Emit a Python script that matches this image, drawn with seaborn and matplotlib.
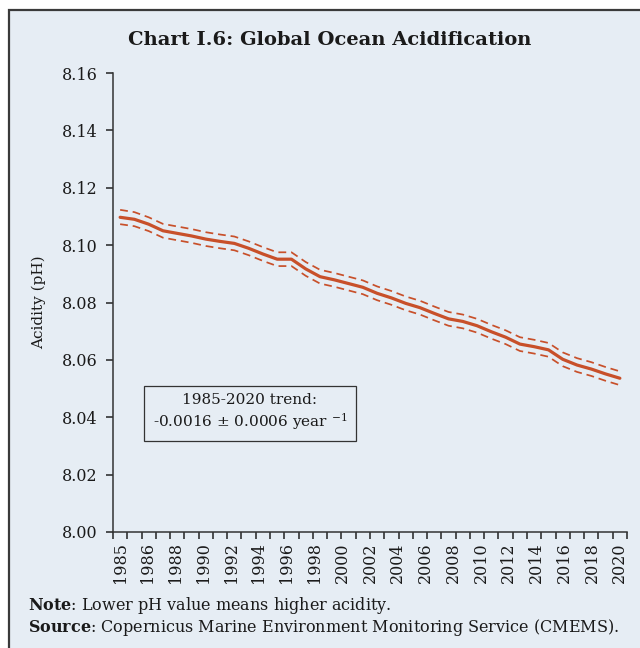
import numpy as np
import pandas as pd
import matplotlib
matplotlib.use("Agg")
import matplotlib.pyplot as plt
import matplotlib.transforms as mtransforms
from matplotlib.patches import Rectangle
import seaborn as sns

# Global ocean pH, yearly means with uncertainty band
years = list(range(1985, 2021))
ph_mean = [8.1097, 8.1090, 8.1073, 8.1050, 8.1041, 8.1032, 8.1021, 8.1013, 8.1006, 8.0989,
           8.0969, 8.0951, 8.0951, 8.0917, 8.0890, 8.0879, 8.0866, 8.0853, 8.0832, 8.0816,
           8.0797, 8.0782, 8.0762, 8.0743, 8.0734, 8.0719, 8.0698, 8.0679, 8.0655, 8.0646,
           8.0635, 8.0602, 8.0582, 8.0568, 8.0551, 8.0536]
ph_upper = [8.1123, 8.1115, 8.1097, 8.1074, 8.1065, 8.1056, 8.1045, 8.1037, 8.1030, 8.1013,
            8.0993, 8.0975, 8.0975, 8.0941, 8.0914, 8.0903, 8.0890, 8.0877, 8.0856, 8.0840,
            8.0821, 8.0806, 8.0786, 8.0767, 8.0758, 8.0743, 8.0722, 8.0703, 8.0679, 8.0670,
            8.0659, 8.0626, 8.0606, 8.0592, 8.0575, 8.0560]
ph_lower = [8.1073, 8.1066, 8.1049, 8.1026, 8.1017, 8.1008, 8.0997, 8.0989, 8.0982, 8.0965,
            8.0945, 8.0927, 8.0927, 8.0893, 8.0866, 8.0855, 8.0842, 8.0829, 8.0808, 8.0792,
            8.0773, 8.0758, 8.0738, 8.0719, 8.0710, 8.0695, 8.0674, 8.0655, 8.0631, 8.0622,
            8.0611, 8.0578, 8.0558, 8.0544, 8.0527, 8.0512]
tick_labels = ["1985", "1986", "1988", "1990", "1992", "1994", "1996", "1998", "2000", "2002",
               "2004", "2006", "2008", "2010", "2012", "2014", "2016", "2018", "2020"]

df = pd.DataFrame({"Year": years, "Mean": ph_mean, "Upper": ph_upper, "Lower": ph_lower})

bg = "#E6EDF4"
red = "#C8502A"
ink = "#1a1a1a"

sns.set_style("ticks")
plt.rcParams["font.family"] = ["DejaVu Serif"]
plt.rcParams["mathtext.fontset"] = "dejavuserif"
plt.rcParams["text.color"] = ink
plt.rcParams["xtick.color"] = ink
plt.rcParams["ytick.color"] = ink
plt.rcParams["axes.labelcolor"] = ink

fig = plt.figure(figsize=(6.4, 6.48), dpi=100, facecolor="white")
# panel background with dark frame
frame = Rectangle((9 / 640, -0.01), 1.0, 1 - 10 / 648 + 0.01, transform=fig.transFigure,
                  facecolor=bg, edgecolor="#3a3a3a", linewidth=1.6, zorder=-5)
fig.patches.append(frame)

ax = fig.add_axes([113 / 640, 1 - 532 / 648, (627 - 113) / 640, (532 - 73) / 648])
ax.set_facecolor(bg)

sns.lineplot(data=df, x="Year", y="Mean", ax=ax, color=red, linewidth=2.3)
sns.lineplot(data=df, x="Year", y="Upper", ax=ax, color=red, linewidth=1.25)
sns.lineplot(data=df, x="Year", y="Lower", ax=ax, color=red, linewidth=1.25)
for ln in ax.lines[1:]:
    ln.set_dashes((4.5, 2.8))

ax.set_ylim(8.00, 8.16)
yt = np.arange(8.00, 8.161, 0.02)
ax.set_yticks(yt)
ax.set_yticklabels([f"{v:.2f}" for v in yt], fontsize=11.5)

# category ticks sit between years; year labels are spread evenly underneath
ax.set_xlim(1984.5, 2020.5)
ax.set_xticks(np.arange(1984.5, 2020.6, 1))
ax.set_xticklabels([])
ax.tick_params(axis="x", length=5, width=1.1, color="#222222", direction="out")
trans = mtransforms.blended_transform_factory(ax.transData, ax.transAxes)
for pos, lab in zip(np.linspace(1985, 2020, len(tick_labels)), tick_labels):
    ax.text(pos, -0.022, lab, transform=trans, rotation=90, ha="center", va="top",
            fontsize=11.5)

ax.tick_params(axis="y", length=5, width=1.1, color="#222222", direction="out", pad=6)
for s in ["top", "right"]:
    ax.spines[s].set_visible(False)
for s in ["left", "bottom"]:
    ax.spines[s].set_color("#333333")
    ax.spines[s].set_linewidth(1.1)
ax.set_xlabel("")
ax.set_ylabel("Acidity (pH)", fontsize=11)
ax.yaxis.set_label_coords(-0.13, 0.5)

ax.text(0.2665, 0.26, "1985-2020 trend:\n-0.0016 ± 0.0006 year $^{-1}$", transform=ax.transAxes,
        ha="center", va="center", fontsize=11, linespacing=1.25,
        bbox=dict(boxstyle="square,pad=0.6", facecolor=bg, edgecolor="#333333", linewidth=0.9))

fig.text(330 / 640, 1 - 40 / 648, "Chart I.6: Global Ocean Acidification", ha="center", va="center",
         fontsize=14, fontweight="bold")

fig.text(28 / 640, 1 - 606 / 648, r"$\bf{Note}$: Lower pH value means higher acidity.",
         ha="left", va="center", fontsize=11.5)
fig.text(28 / 640, 1 - 627 / 648,
         r"$\bf{Source}$: Copernicus Marine Environment Monitoring Service (CMEMS).",
         ha="left", va="center", fontsize=11.5)

fig.savefig("out.png", dpi=100, facecolor="white")
